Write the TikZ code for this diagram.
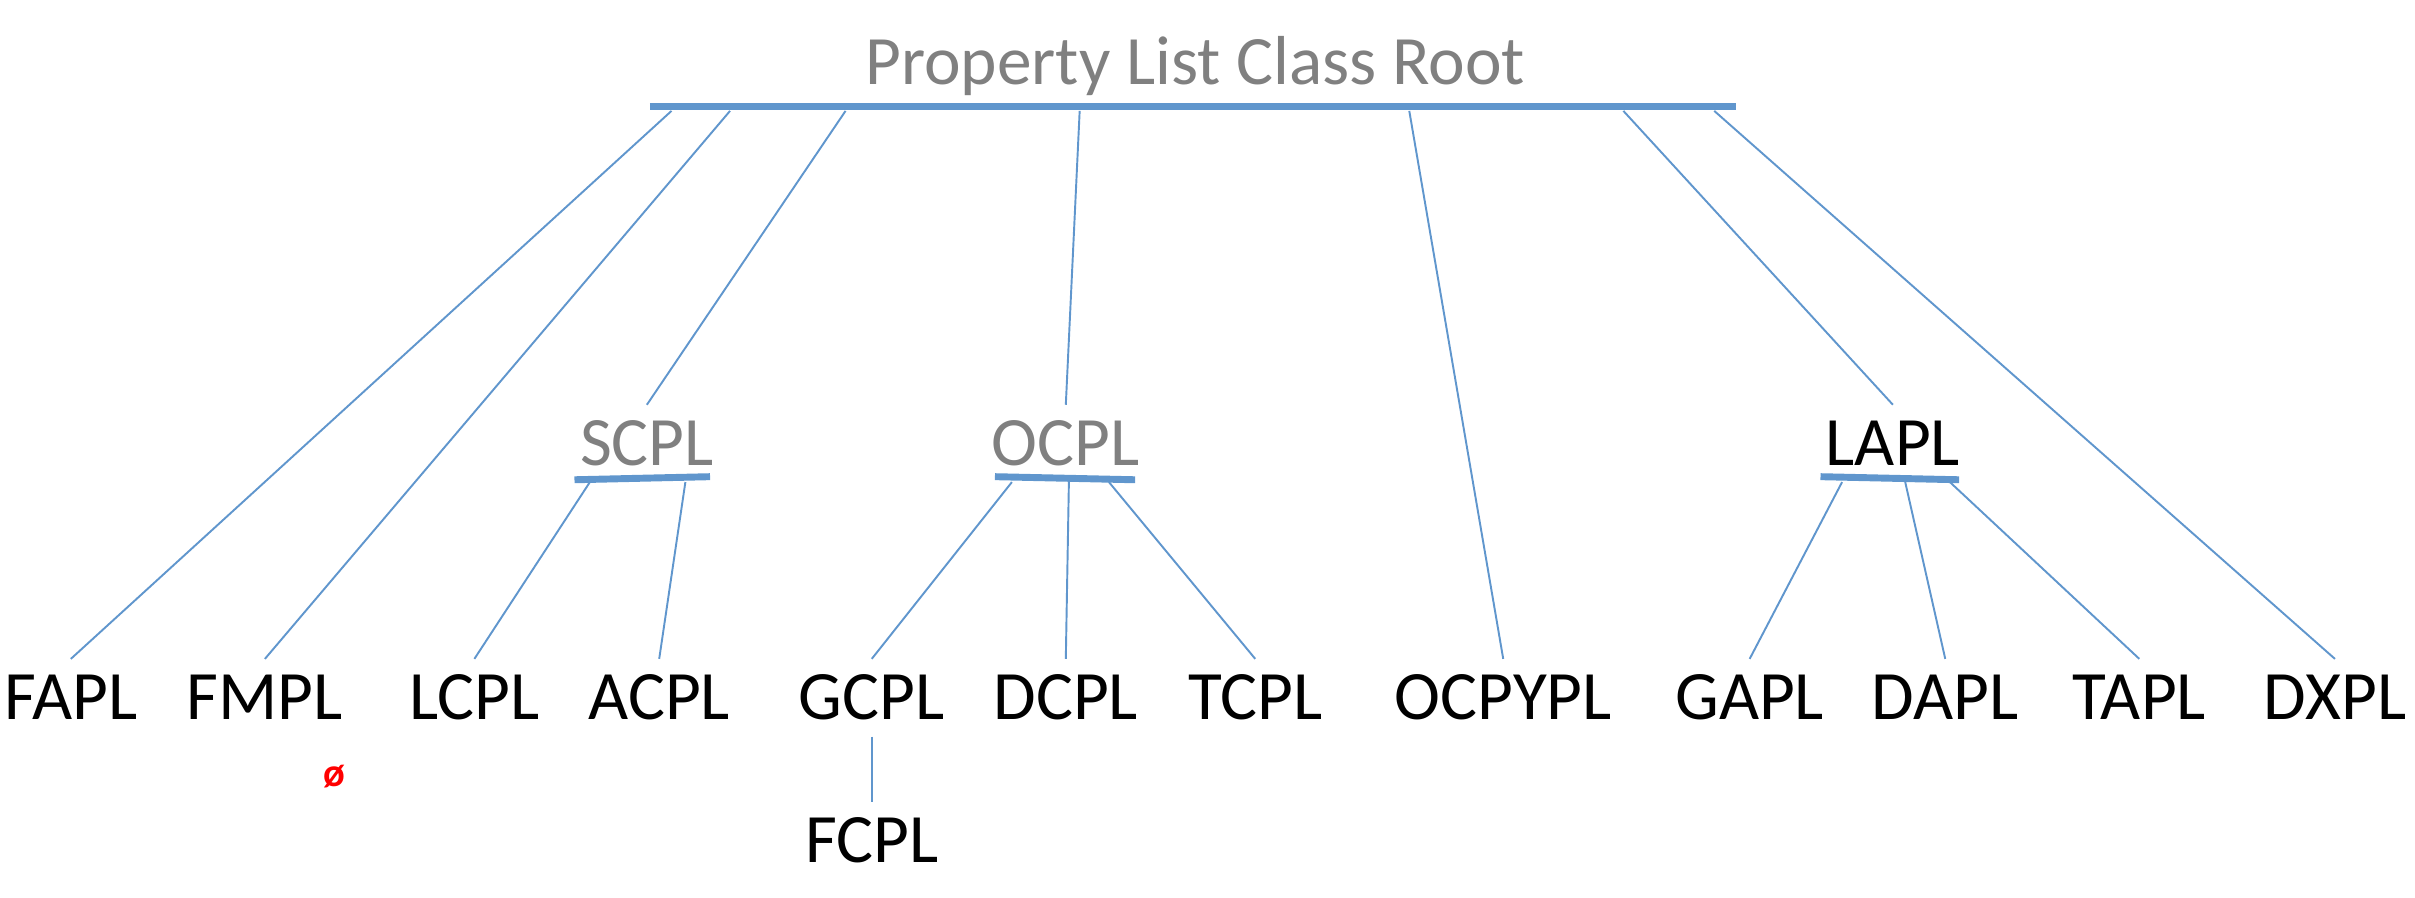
\documentclass[tikz,border=0pt]{standalone}
\usepackage{fontspec}
\setmainfont{Carlito}
\definecolor{barblue}{RGB}{96,150,205}
\definecolor{titlegray}{RGB}{128,128,128}
\begin{document}
\begin{tikzpicture}[x=1pt,y=-1pt,
  lbl/.style={font=\fontsize{45}{45}\selectfont, anchor=base, inner xsep=0pt, inner ysep=10pt, text height=29pt, text depth=0pt},
  glbl/.style={lbl, text=titlegray},
  bar/.style={draw=barblue, line width=4.5pt},
  conn/.style={draw=barblue, line width=1.25pt}]
\useasboundingbox (0,0) rectangle (1568,583);
% root
\node[glbl] (root) at (776,55) {Property List Class Root};
\coordinate (rootL) at (422,69);
\coordinate (rootR) at (1127,69);
\draw[bar] (rootL) -- (rootR);
% mid labels
\node[glbl] (scpl) at (420,302) {SCPL};
\node[glbl] (ocpl) at (692,302) {OCPL};
\node[lbl] (lapl) at (1229,302) {LAPL};
\coordinate (sbL) at (373,311.5); \coordinate (sbR) at (461,309.5);
\coordinate (obL) at (646,309.5); \coordinate (obR) at (737,311.5);
\coordinate (lbL) at (1182,309.5); \coordinate (lbR) at (1272,311.5);
\draw[bar] (sbL) -- (sbR);
\draw[bar] (obL) -- (obR);
\draw[bar] (lbL) -- (lbR);
% bottom labels
\node[lbl] (fapl) at (46,467) {FAPL};
\node[lbl] (fmpl) at (172,467) {FMPL};
\node[lbl] (lcpl) at (308,467) {LCPL};
\node[lbl] (acpl) at (428,467) {ACPL};
\node[lbl] (gcpl) at (566,467) {GCPL};
\node[lbl] (dcpl) at (692,467) {DCPL};
\node[lbl] (tcpl) at (815,467) {TCPL};
\node[lbl] (ocpypl) at (976,467) {OCPYPL};
\node[lbl] (gapl) at (1136,467) {GAPL};
\node[lbl] (dapl) at (1263,467) {DAPL};
\node[lbl] (tapl) at (1389,467) {TAPL};
\node[lbl] (dxpl) at (1516,467) {DXPL};
\node[lbl] (fcpl) at (566,560) {FCPL};
\node[text=red, font=\bfseries\fontsize{26}{26}\selectfont, inner sep=0pt] (phi) at (217,504) {ø};
% root connectors
\coordinate (r1) at (436,72); \coordinate (r2) at (474,72); \coordinate (r3) at (549,72);
\coordinate (r4) at (701,72); \coordinate (r5) at (915,72); \coordinate (r6) at (1054,72);
\coordinate (r7) at (1113,72);
\draw[conn] (r1) -- (fapl.north);
\draw[conn] (r2) -- (fmpl.north);
\draw[conn] (r3) -- (scpl.north);
\draw[conn] (r4) -- (ocpl.north);
\draw[conn] (r5) -- (ocpypl.north);
\draw[conn] (r6) -- (lapl.north);
\draw[conn] (r7) -- (dxpl.north);
% SCPL
\coordinate (s1) at (383,313); \coordinate (s2) at (445,313);
\draw[conn] (s1) -- (lcpl.north);
\draw[conn] (s2) -- (acpl.north);
% OCPL
\coordinate (o1) at (657,313); \coordinate (o2) at (694,313); \coordinate (o3) at (720,313);
\draw[conn] (o1) -- (gcpl.north);
\draw[conn] (o2) -- (dcpl.north);
\draw[conn] (o3) -- (tcpl.north);
% LAPL
\coordinate (l1) at (1196,313); \coordinate (l2) at (1237,313); \coordinate (l3) at (1266,313);
\draw[conn] (l1) -- (gapl.north);
\draw[conn] (l2) -- (dapl.north);
\draw[conn] (l3) -- (tapl.north);
% GCPL -> FCPL
\draw[conn] (gcpl.south) ++(0,1) coordinate (g0) (g0) -- (fcpl.north);
\end{tikzpicture}
\end{document}
